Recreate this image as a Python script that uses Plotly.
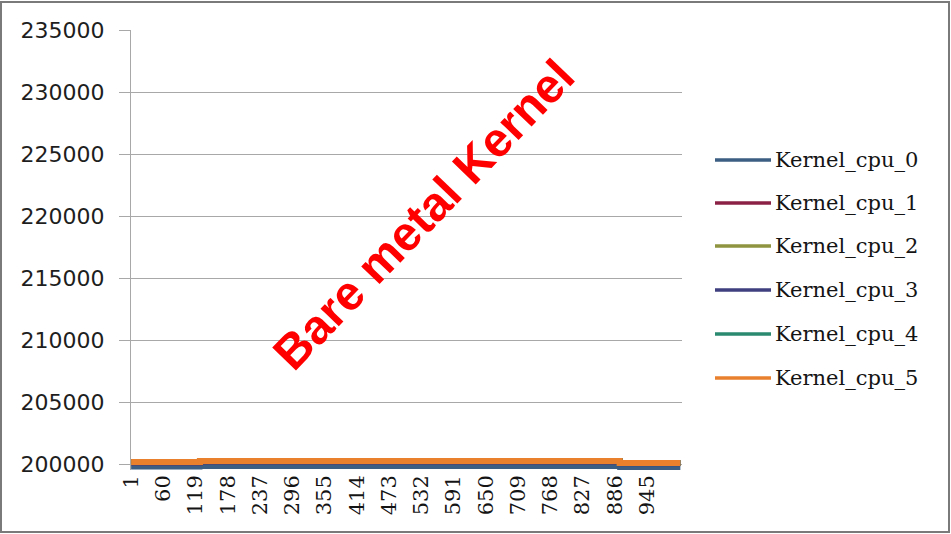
import plotly.graph_objects as go

# Sample indices (category numbers) and per-CPU kernel counters
sample_idx = [1, 60, 119, 127, 178, 237, 296, 355, 414, 473, 532, 591, 650, 709, 768, 827, 886, 895, 945, 1006]

series_names = ["Kernel_cpu_0", "Kernel_cpu_1", "Kernel_cpu_2",
                "Kernel_cpu_3", "Kernel_cpu_4", "Kernel_cpu_5"]
series_colors = ["#3B5E82", "#8B2246", "#8E9440", "#3F3F7F", "#2A8A70", "#E8802E"]

cpu_0 = [199760, 199760, 199760, 199800, 199800, 199800, 199800, 199800, 199800, 199800,
         199800, 199800, 199800, 199800, 199800, 199800, 199800, 199700, 199700, 199700]
cpu_1 = [200150, 200150, 200150, 200230, 200230, 200230, 200230, 200230, 200230, 200230,
         200230, 200230, 200230, 200230, 200230, 200230, 200230, 200080, 200080, 200080]
cpu_2 = [200160, 200160, 200160, 200240, 200240, 200240, 200240, 200240, 200240, 200240,
         200240, 200240, 200240, 200240, 200240, 200240, 200240, 200080, 200080, 200080]
cpu_3 = [200150, 200150, 200150, 200230, 200230, 200230, 200230, 200230, 200230, 200230,
         200230, 200230, 200230, 200230, 200230, 200230, 200230, 200070, 200070, 200070]
cpu_4 = [200160, 200160, 200160, 200240, 200240, 200240, 200240, 200240, 200240, 200240,
         200240, 200240, 200240, 200240, 200240, 200240, 200240, 200080, 200080, 200080]
cpu_5 = [200160, 200160, 200160, 200240, 200240, 200240, 200240, 200240, 200240, 200240,
         200240, 200240, 200240, 200240, 200240, 200240, 200240, 200080, 200080, 200080]

x_tick_vals = [1, 60, 119, 178, 237, 296, 355, 414, 473, 532, 591, 650, 709, 768, 827, 886, 945]
y_tick_vals = [200000, 205000, 210000, 215000, 220000, 225000, 230000, 235000]

all_series = [cpu_0, cpu_1, cpu_2, cpu_3, cpu_4, cpu_5]
line_widths = [5, 6, 6, 6, 6, 6]

W, H = 951, 534
PL, PR, PT, PB = 131, 682, 30, 470  # plot box in pixels


def px_x(px):
    return (px - PL) / (PR - PL)


def px_y(py):
    return (PB - py) / (PB - PT)


fig = go.Figure()
for name, color, vals, lw in zip(series_names, series_colors, all_series, line_widths):
    fig.add_trace(go.Scatter(
        x=sample_idx, y=vals, name=name, mode="lines",
        line=dict(color=color, width=lw, shape="hv"),
        showlegend=False,
    ))

shapes = []
annotations = []

# legend: line sample plus label for each series
legend_y = [160, 203, 246, 290, 334, 378]
for name, color, ly in zip(series_names, series_colors, legend_y):
    shapes.append(dict(type="line", xref="paper", yref="paper",
                       x0=px_x(715), x1=px_x(771), y0=px_y(ly), y1=px_y(ly),
                       line=dict(color=color, width=3.5)))
    annotations.append(dict(text=name, xref="paper", yref="paper",
                            x=px_x(773), y=px_y(ly), xanchor="left", yanchor="middle",
                            showarrow=False,
                            font=dict(family="DejaVu Serif", size=21, color="#141414")))

# diagonal stamp across the plot
annotations.append(dict(text="<b>Bare metal Kernel</b>", xref="paper", yref="paper",
                        x=px_x(424), y=px_y(215), xanchor="center", yanchor="middle",
                        showarrow=False, textangle=-46,
                        font=dict(family="Liberation Sans", size=48, color="#FF0000")))

# outer frame
shapes.append(dict(type="rect", xref="paper", yref="paper", layer="above",
                   x0=px_x(1), x1=px_x(949), y0=px_y(532), y1=px_y(2),
                   line=dict(color="#7A7A7A", width=2)))

fig.update_layout(
    width=W, height=H,
    margin=dict(l=PL, r=W - PR, t=PT, b=H - PB, pad=0),
    paper_bgcolor="white", plot_bgcolor="white",
    shapes=shapes, annotations=annotations,
    xaxis=dict(range=[0.8, 1009], tickmode="array", tickvals=x_tick_vals,
               ticktext=[str(v) for v in x_tick_vals], tickangle=-90,
               showgrid=False, zeroline=False, showline=False, ticks="",
               tickfont=dict(family="DejaVu Serif", size=21, color="#141414")),
    yaxis=dict(range=[199516, 235000], tickmode="array", tickvals=y_tick_vals,
               ticktext=[str(v) for v in y_tick_vals],
               showgrid=True, gridcolor="#A8A8A8", gridwidth=1, zeroline=False,
               showline=True, linecolor="#A8A8A8", linewidth=1,
               ticks="outside", ticklen=11, tickcolor="#A8A8A8",
               ticklabelstandoff=10,
               tickfont=dict(family="DejaVu Sans", size=22, color="#1E1E1E")),
)

fig.write_html("out.html")
